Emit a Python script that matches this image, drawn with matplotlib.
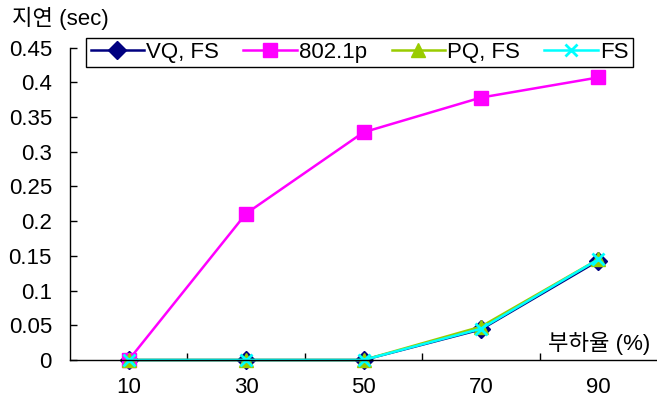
import numpy as np
import matplotlib.pyplot as plt

plt.rcParams['font.family'] = ['Liberation Sans', 'Noto Sans CJK KR']

loads = ['10', '30', '50', '70', '90']
vq_fs = [0.0, 0.0, 0.0, 0.044, 0.143]
p8021 = [0.0, 0.211, 0.328, 0.378, 0.407]
pq_fs = [0.0, 0.0, 0.0, 0.048, 0.145]
fs = [0.0, 0.0, 0.0, 0.045, 0.145]

x = np.arange(len(loads)) + 0.5

fig = plt.figure(figsize=(6.57, 4.03), dpi=100)
ax = fig.add_axes([70/657, 1-360/403, 587/657, 312.4/403])

ax.plot(x, vq_fs, color='#000080', lw=1.8, marker='D', ms=9, label='VQ, FS', clip_on=False)
ax.plot(x, p8021, color='#FF00FF', lw=1.8, marker='s', ms=10.5, label='802.1p', clip_on=False)
ax.plot(x, pq_fs, color='#99CC00', lw=1.8, marker='^', ms=10, label='PQ, FS', clip_on=False)
ax.plot(x, fs, color='#00FFFF', lw=1.8, marker='x', ms=9, mew=2, label='FS', clip_on=False)

ax.set_xlim(0, 5)
ax.set_ylim(0, 0.45)
ax.set_yticks(np.arange(0, 0.46, 0.05))
ax.set_yticklabels(['0', '0.05', '0.1', '0.15', '0.2', '0.25', '0.3', '0.35', '0.4', '0.45'])
ax.set_xticks(x)
ax.set_xticklabels(loads)
ax.set_xticks([1, 2, 3, 4], minor=True)
ax.tick_params(axis='x', which='major', length=0, pad=12, labelsize=16)
ax.tick_params(axis='x', which='minor', direction='in', length=5, width=1)
ax.tick_params(axis='y', direction='in', length=5, width=1, pad=13, labelsize=16)
for s in ['top', 'right']:
    ax.spines[s].set_visible(False)
for s in ['left', 'bottom']:
    ax.spines[s].set_linewidth(1)

fig.text(12/657, 1-18/403, '지연 (sec)', fontsize=16, va='center', ha='left')
fig.text(548/657, 1-343/403, '부하율 (%)', fontsize=16, va='center', ha='left')

leg = fig.legend(loc='center', bbox_to_anchor=(359.5/657, 1-52.5/403), ncol=4, fontsize=16,
                 frameon=True, fancybox=False, edgecolor='black', framealpha=1,
                 handlelength=2.4, handletextpad=0.1, columnspacing=1.1, borderpad=0.2,
                 borderaxespad=0)
leg.get_frame().set_linewidth(1)

fig.savefig('out.png', dpi=100)
